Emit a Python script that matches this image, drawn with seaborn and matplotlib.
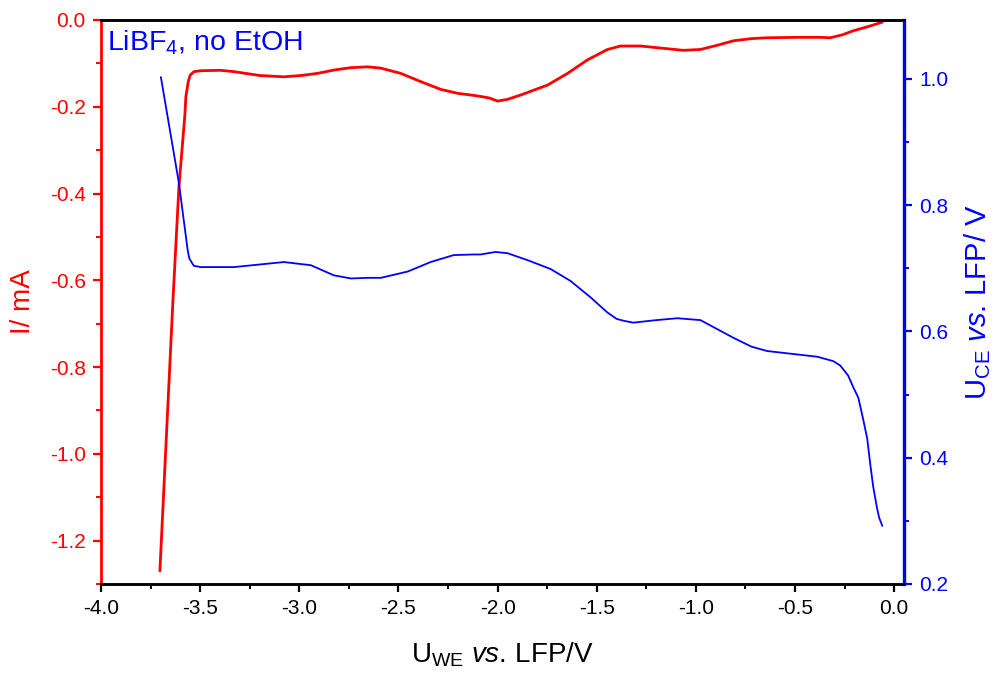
import matplotlib
matplotlib.use("Agg")
import matplotlib.pyplot as plt
from matplotlib.ticker import MultipleLocator
import seaborn as sns
import pandas as pd

# Working-electrode potential (V vs. LFP) and current (mA)
current_u = [-3.703, -3.637, -3.607, -3.577, -3.572, -3.560, -3.550, -3.531,
             -3.496, -3.400, -3.330, -3.200, -3.078, -2.990, -2.907, -2.820,
             -2.741, -2.655, -2.589, -2.489, -2.388, -2.287, -2.202, -2.101,
             -2.040, -2.000, -1.950, -1.884, -1.748, -1.647, -1.547, -1.446,
             -1.380, -1.280, -1.150, -1.063, -0.977, -0.890, -0.811, -0.720,
             -0.640, -0.480, -0.380, -0.322, -0.260, -0.207, -0.130, -0.060]
current_i = [-1.270, -0.645, -0.385, -0.219, -0.177, -0.142, -0.127, -0.119,
             -0.117, -0.116, -0.119, -0.128, -0.131, -0.128, -0.123, -0.115,
             -0.110, -0.108, -0.111, -0.123, -0.142, -0.160, -0.169, -0.175,
             -0.180, -0.187, -0.183, -0.173, -0.150, -0.123, -0.092, -0.068,
             -0.060, -0.060, -0.066, -0.070, -0.068, -0.058, -0.048, -0.043,
             -0.041, -0.040, -0.040, -0.041, -0.034, -0.025, -0.015, -0.005]

# Counter-electrode potential (V vs. LFP) over the same sweep
ce_u = [-3.698, -3.607, -3.563, -3.555, -3.538, -3.531, -3.496, -3.330,
        -3.078, -2.942, -2.826, -2.740, -2.655, -2.589, -2.453, -2.338,
        -2.222, -2.121, -2.086, -2.010, -1.950, -1.849, -1.733, -1.632,
        -1.531, -1.446, -1.400, -1.365, -1.315, -1.200, -1.093, -0.977,
        -0.900, -0.811, -0.720, -0.640, -0.500, -0.388, -0.307, -0.272,
        -0.232, -0.207, -0.181, -0.156, -0.136, -0.121, -0.106, -0.086,
        -0.076, -0.060]
ce_v = [1.003, 0.835, 0.729, 0.716, 0.707, 0.704, 0.702, 0.702,
        0.710, 0.705, 0.689, 0.684, 0.685, 0.685, 0.695, 0.710,
        0.721, 0.722, 0.722, 0.726, 0.724, 0.713, 0.699, 0.680,
        0.654, 0.630, 0.620, 0.617, 0.614, 0.618, 0.621, 0.618,
        0.605, 0.590, 0.576, 0.569, 0.564, 0.560, 0.553, 0.546,
        0.530, 0.512, 0.495, 0.460, 0.430, 0.390, 0.354, 0.319,
        0.305, 0.292]

x_ticks = [-4.0, -3.5, -3.0, -2.5, -2.0, -1.5, -1.0, -0.5, 0.0]
left_ticks = [0.0, -0.2, -0.4, -0.6, -0.8, -1.0, -1.2]
right_ticks = [0.2, 0.4, 0.6, 0.8, 1.0]

sns.set_theme(style="ticks")
plt.rcParams["font.family"] = ["Liberation Sans", "DejaVu Sans"]
plt.rcParams["mathtext.fontset"] = "custom"
plt.rcParams["mathtext.rm"] = "Liberation Sans"
plt.rcParams["mathtext.it"] = "Liberation Sans:italic"
plt.rcParams["mathtext.default"] = "regular"
plt.rcParams["text.color"] = "black"
plt.rcParams["axes.labelcolor"] = "black"

RED = "#ff0000"
BLUE = "#0000ff"

fig = plt.figure(figsize=(9.94, 6.77), dpi=100)
ax = fig.add_axes([0.1016, 0.1374, 0.808, 0.8331])
ax2 = ax.twinx()

cur = pd.DataFrame({"u": current_u, "i": current_i})
ce = pd.DataFrame({"u": ce_u, "v": ce_v})
sns.lineplot(data=cur, x="u", y="i", ax=ax, color=RED, lw=2.0, sort=False)
sns.lineplot(data=ce, x="u", y="v", ax=ax2, color=BLUE, lw=1.3, sort=False)

ax.set_xlim(-4.0, 0.05)
ax.set_ylim(-1.3, 0.0)
ax2.set_ylim(0.2, 1.0935)

ax.set_xticks(x_ticks)
ax.set_xticklabels([f"{t:.1f}" for t in x_ticks])
ax.set_yticks(left_ticks)
ax.set_yticklabels([f"{t:.1f}" for t in left_ticks])
ax2.set_yticks(right_ticks)
ax2.set_yticklabels([f"{t:.1f}" for t in right_ticks])
ax.xaxis.set_minor_locator(MultipleLocator(0.25))
ax.yaxis.set_minor_locator(MultipleLocator(0.1))
ax2.yaxis.set_minor_locator(MultipleLocator(0.1))

ax.tick_params(axis="x", which="major", length=6, width=1.6, colors="black",
               labelsize=15, pad=5)
ax.tick_params(axis="x", which="minor", length=3.5, width=1.4, colors="black")
ax.tick_params(axis="y", which="major", length=6, width=1.6, colors=RED,
               labelsize=15, pad=5)
ax.tick_params(axis="y", which="minor", length=3.5, width=1.4, colors=RED)
ax2.tick_params(axis="y", which="major", length=6, width=1.6, colors=BLUE,
                labelsize=15, pad=5)
ax2.tick_params(axis="y", which="minor", length=3.5, width=1.4, colors=BLUE)

for a in (ax, ax2):
    for s in a.spines.values():
        s.set_linewidth(1.8)
        s.set_color("black")
    a.spines["left"].set_color(RED)
    a.spines["right"].set_color(BLUE)
    a.spines["top"].set_visible(True)
    a.spines["right"].set_visible(True)
ax.spines["right"].set_visible(False)
ax2.spines["left"].set_visible(False)
ax2.spines["right"].set_linewidth(2.4)
ax.spines["left"].set_linewidth(2.0)

ax.set_xlabel(r"U$_{\mathrm{WE}}$ $\mathit{vs.}\,$LFP/V", fontsize=20,
              labelpad=16)
ax.set_ylabel("I/ mA", fontsize=20, color=RED, labelpad=10)
ax2.set_ylabel(r"U$_{\mathrm{CE}}$ $\mathit{vs.}\,$LFP/ V", fontsize=21,
               color=BLUE, labelpad=10)

ax.text(0.008, 0.985, r"LiBF$_4$, no EtOH", transform=ax.transAxes,
        color=BLUE, fontsize=20.5, ha="left", va="top")

fig.savefig("out.png", dpi=100)
